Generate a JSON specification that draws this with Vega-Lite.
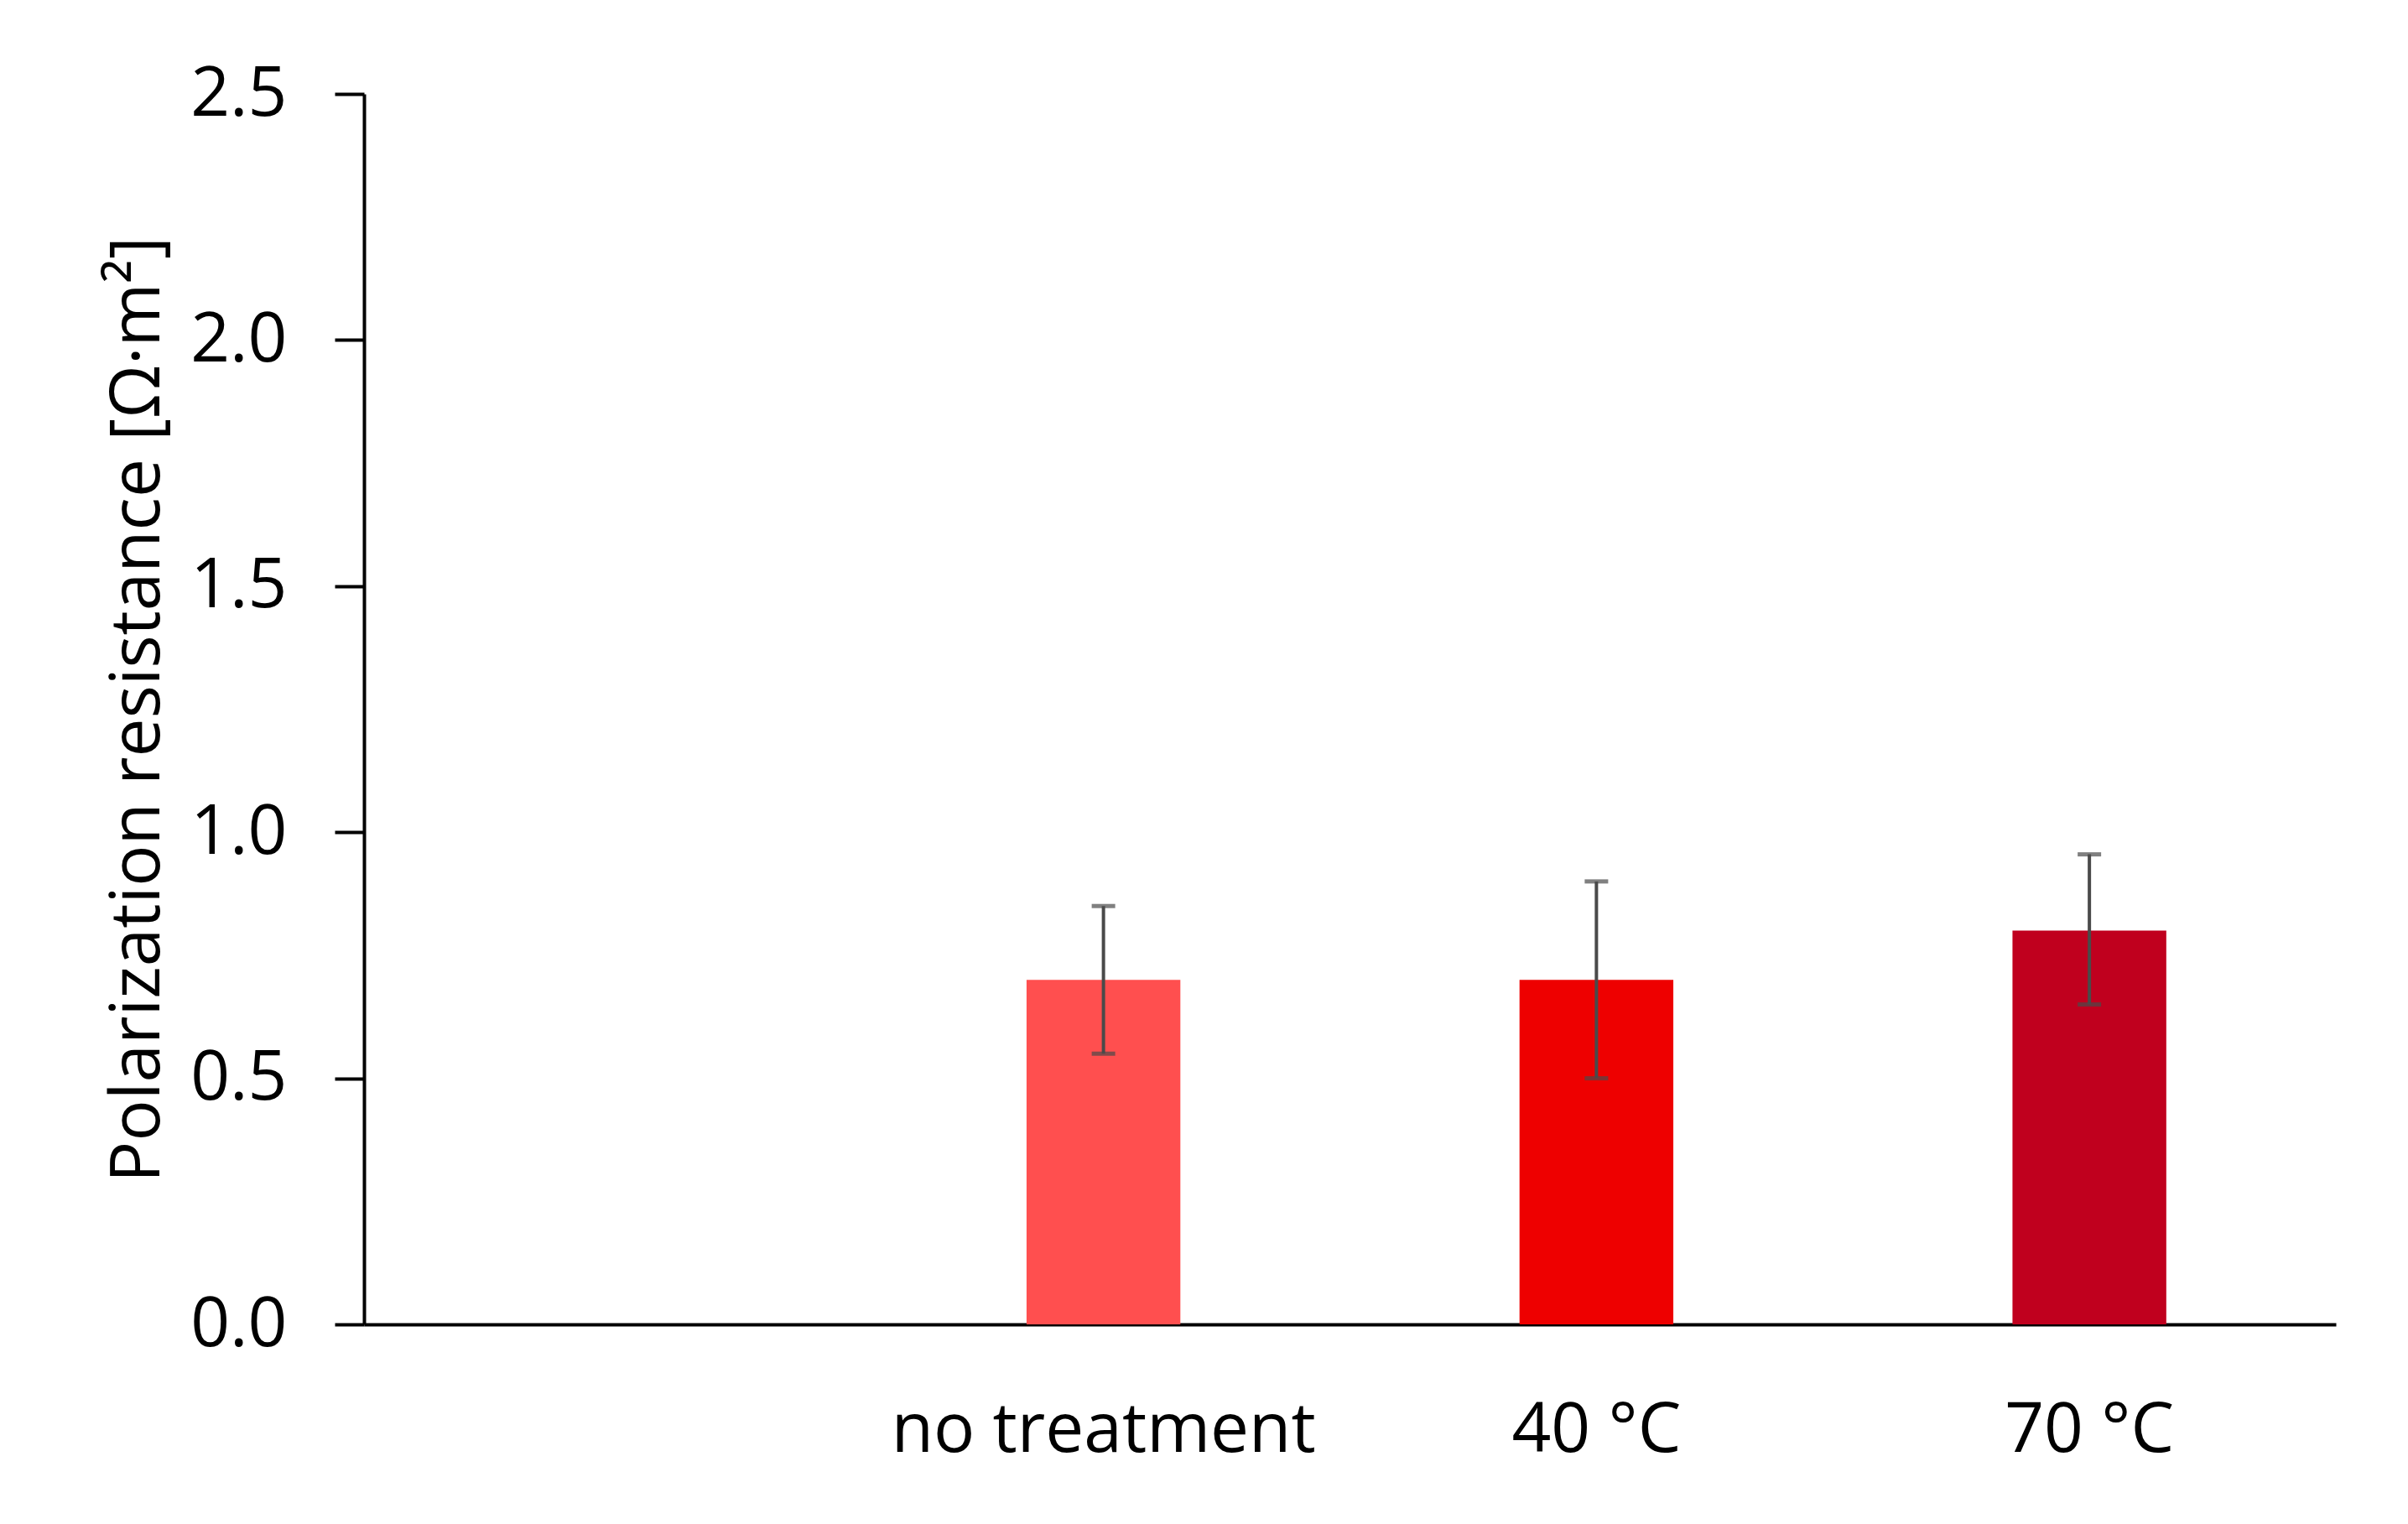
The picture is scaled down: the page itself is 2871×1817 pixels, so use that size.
{
  "$schema": "https://vega.github.io/schema/vega-lite/v6.json",
  "autosize": {"type": "none"},
  "width": 2351,
  "height": 1467,
  "padding": {"left": 434, "top": 112, "right": 86, "bottom": 238},
  "background": "white",
  "config": {
    "view": {"stroke": null},
    "font": "Open Sans",
    "axis": {"grid": false, "domainColor": "black", "domainWidth": 4, "labelFont": "Open Sans", "titleFont": "Open Sans", "labelColor": "black", "titleColor": "black", "labelLimit": 0}
  },
  "data": {
    "values": [
      {"treatment": "no treatment", "value": 0.70, "lo": 0.55, "hi": 0.85},
      {"treatment": "40 °C", "value": 0.70, "lo": 0.50, "hi": 0.90},
      {"treatment": "70 °C", "value": 0.80, "lo": 0.65, "hi": 0.955}
    ]
  },
  "encoding": {
    "x": {
      "field": "treatment",
      "type": "nominal",
      "sort": null,
      "scale": {"domain": ["", "no treatment", "40 °C", "70 °C"], "paddingInner": 0.688, "paddingOuter": 0.344},
      "axis": {"title": null, "labelAngle": 0, "ticks": false, "labelFontSize": 82, "labelPadding": 86, "labelBaseline": "top", "labelLimit": 0}
    }
  },
  "layer": [
    {
      "mark": {"type": "bar"},
      "encoding": {
        "y": {
          "field": "value",
          "type": "quantitative",
          "scale": {"domain": [0, 2.5], "nice": false},
          "axis": {
            "title": "Polarization resistance [Ω·m²]",
            "titleFontSize": 82,
            "titleFontWeight": "normal",
            "titlePadding": 28,
            "values": [0, 0.5, 1, 1.5, 2, 2.5],
            "format": ".1f",
            "labelFontSize": 82,
            "labelPadding": 57,
            "tickSize": 35,
            "tickWidth": 4,
            "tickColor": "black"
          }
        },
        "color": {
          "field": "treatment",
          "type": "nominal",
          "scale": {"domain": ["no treatment", "40 °C", "70 °C"], "range": ["#FF4F4F", "#EE0000", "#C0001E"]},
          "legend": null
        }
      }
    },
    {
      "mark": {"type": "rule", "color": "#4a4a4a", "strokeWidth": 4},
      "encoding": {
        "y": {"field": "lo", "type": "quantitative"},
        "y2": {"field": "hi"}
      }
    },
    {
      "mark": {"type": "tick", "color": "#4a4a4a", "size": 28, "thickness": 5, "orient": "horizontal"},
      "encoding": {"y": {"field": "lo", "type": "quantitative"}}
    },
    {
      "mark": {"type": "tick", "color": "#4a4a4a", "size": 28, "thickness": 5, "orient": "horizontal"},
      "encoding": {"y": {"field": "hi", "type": "quantitative"}}
    }
  ]
}
